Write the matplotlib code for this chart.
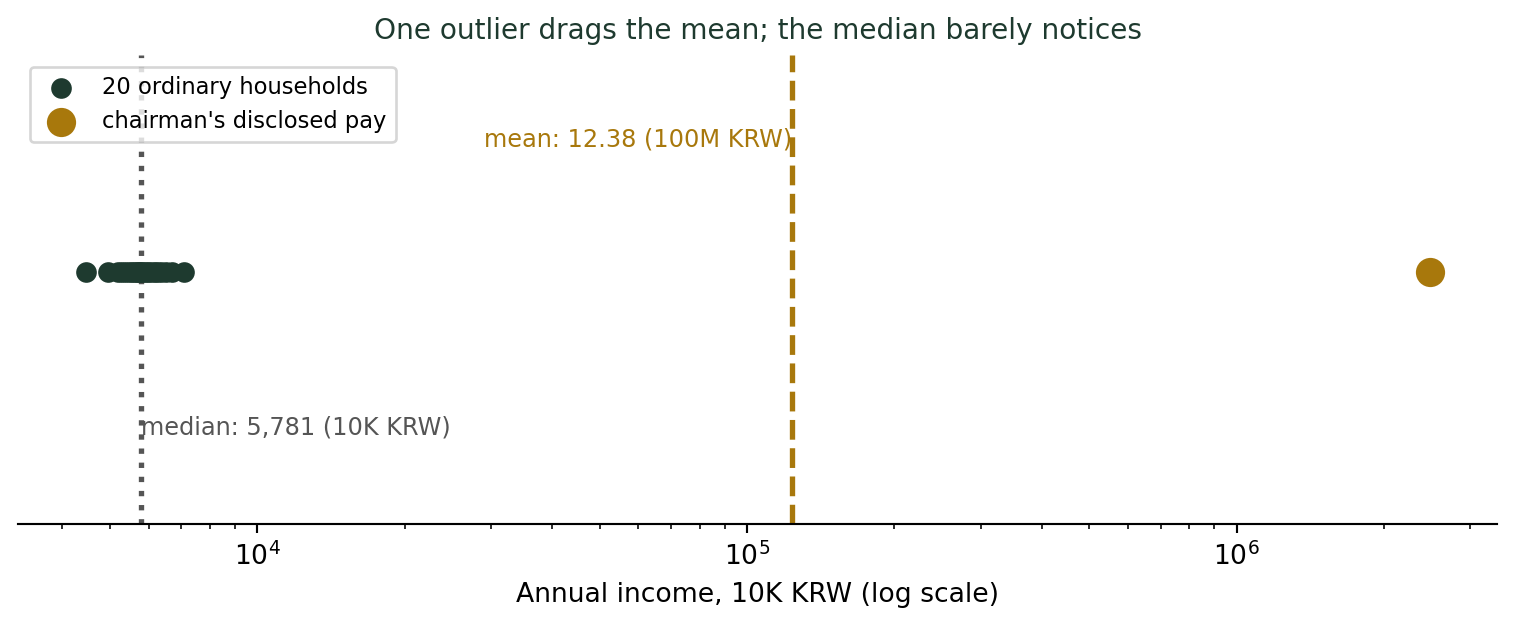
import numpy as np
import matplotlib
matplotlib.use("Agg")
import matplotlib.pyplot as plt
import matplotlib.transforms as mtransforms

# 20 ordinary households, annual income in 10K KRW
households = [4480, 4950, 5200, 5300, 5400, 5500, 5580, 5650, 5700, 5760,
              5781, 5880, 5950, 6050, 6150, 6250, 6350, 6500, 6700, 7100]
chairman = 2483500  # disclosed pay, 10K KRW

green = "#1e3a2f"
gold = "#a8780c"
grey = "#555555"

all_vals = np.array(households + [chairman])
mean_val = all_vals.mean()
median_val = np.median(all_vals)

DPI = 192
fig = plt.figure(figsize=(1516 / DPI, 628 / DPI), dpi=DPI)
ax = fig.add_axes([0.012, 0.1656, 0.9755, 0.7464])

ax.scatter(households, np.zeros(len(households)), s=60, color=green,
           linewidth=0, zorder=3, label="20 ordinary households")
ax.scatter([chairman], [0], s=120, color=gold, linewidth=0, zorder=3,
           label="chairman's disclosed pay")

ax.axvline(mean_val, color=gold, linestyle="--", linewidth=2)
ax.axvline(median_val, color=grey, linestyle=":", linewidth=2)

trans = mtransforms.blended_transform_factory(ax.transData, ax.transAxes)
ax.text(mean_val, 0.82, f"mean: {mean_val / 10000:.2f} (100M KRW)",
        transform=trans, ha="right", va="center", color=gold, fontsize=9)
ax.text(median_val, 0.205, f"median: {median_val:,.0f} (10K KRW)",
        transform=trans, ha="left", va="center", color=grey, fontsize=9)

ax.set_xscale("log")
ax.set_xlim(3250, 3.4e6)
ax.set_ylim(-0.58, 0.5)
ax.set_yticks([])
for s in ["top", "right", "left"]:
    ax.spines[s].set_visible(False)

ax.set_xlabel("Annual income, 10K KRW (log scale)", fontsize=10)
ax.set_title("One outlier drags the mean; the median barely notices",
             color=green, fontsize=10.5)
ax.legend(loc="upper left", fontsize=8.5)

fig.savefig("out.png", dpi=DPI)
